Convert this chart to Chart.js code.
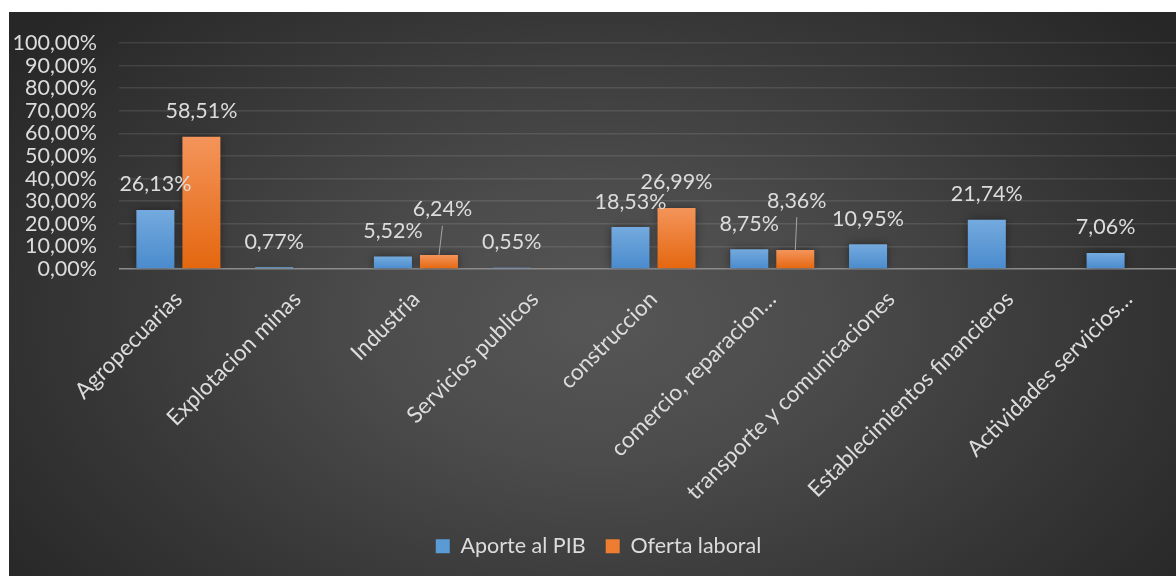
<!DOCTYPE html>
<html>
<head>
<meta charset="utf-8">
<script src="https://cdn.jsdelivr.net/npm/chart.js@4"></script>
<style>
  html, body { margin: 0; padding: 0; background: #ffffff; overflow: hidden; width: 1176px; height: 576px; }
  #wrap {
    position: absolute; left: 9px; top: 12px; width: 1180px; height: 564px;
    background: radial-gradient(ellipse 62% 80% at 50% 55%, #565656 0%, #4c4c4c 30%, #363636 70%, #272727 100%);
  }
</style>
</head>
<body>
<div id="wrap"><canvas id="c"></canvas></div>
<script>
const categories = [
  "Agropecuarias", "Explotacion minas", "Industria", "Servicios publicos",
  "construccion", "comercio, reparacion\u2026", "transporte y comunicaciones",
  "Establecimientos financieros", "Actividades servicios\u2026"
];
const aportePIB = [26.13, 0.77, 5.52, 0.55, 18.53, 8.75, 10.95, 21.74, 7.06];
const ofertaLaboral = [58.51, null, 6.24, null, 26.99, 8.36, null, null, null];
const seriesNames = ["Aporte al PIB", "Oferta laboral"];
const yTickValues = [0, 10, 20, 30, 40, 50, 60, 70, 80, 90, 100];

const FAMILY = "Lato, 'Open Sans', sans-serif";
const FONT = { family: FAMILY, size: 21.5 };
const XFONT = { family: FAMILY, size: 22.5 };
const TEXT = "#dcdcdc";

function fmt(v) { return v.toFixed(2).replace(".", ",") + "%"; }

function barGradient(top, bottom) {
  return function (c) {
    const chart = c.chart;
    const ys = chart.scales && chart.scales.y;
    if (!ys || c.raw == null) return top;
    const y0 = ys.getPixelForValue(c.raw);
    const y1 = ys.getPixelForValue(0);
    const g = chart.ctx.createLinearGradient(0, y0, 0, Math.max(y1, y0 + 1));
    g.addColorStop(0, top);
    g.addColorStop(1, bottom);
    return g;
  };
}

const shadowPlugin = {
  id: "barShadow",
  beforeDatasetsDraw(chart) {
    const ctx = chart.ctx;
    ctx.save();
    ctx.shadowColor = "rgba(0,0,0,0.45)";
    ctx.shadowBlur = 9;
    ctx.shadowOffsetX = 0;
    ctx.shadowOffsetY = 0;
  },
  afterDatasetsDraw(chart) {
    chart.ctx.restore();
  }
};

const valueLabels = {
  id: "valueLabels",
  afterDatasetsDraw(chart, args, opts) {
    const ctx = chart.ctx;
    ctx.save();
    ctx.font = FONT.size + "px " + FONT.family;
    ctx.fillStyle = TEXT;
    ctx.textAlign = "center";
    ctx.textBaseline = "middle";
    chart.data.datasets.forEach((ds, di) => {
      const meta = chart.getDatasetMeta(di);
      meta.data.forEach((bar, i) => {
        const v = ds.data[i];
        if (v == null) return;
        const sh = (opts.shifts || []).find(s => s.dataset === di && s.index === i);
        const x = bar.x + (sh ? sh.dx : 0);
        const y = bar.y - opts.offset + (sh ? sh.dy : 0);
        if (sh && sh.leader) {
          ctx.save();
          ctx.strokeStyle = "#a6a6a6";
          ctx.lineWidth = 1;
          ctx.beginPath();
          ctx.moveTo(x, y + 16.5);
          ctx.lineTo(bar.x, bar.y);
          ctx.stroke();
          ctx.restore();
        }
        ctx.fillText(fmt(v), x, y);
      });
    });
    ctx.restore();
  }
};

new Chart(document.getElementById("c"), {
  type: "bar",
  data: {
    labels: categories,
    datasets: [
      {
        label: seriesNames[0],
        data: aportePIB,
        backgroundColor: barGradient("#74aade", "#4a8bcd"),
        borderWidth: 0,
        categoryPercentage: 0.775,
        barPercentage: 0.826
      },
      {
        label: seriesNames[1],
        data: ofertaLaboral,
        backgroundColor: barGradient("#f4945a", "#e4670f"),
        borderWidth: 0,
        categoryPercentage: 0.775,
        barPercentage: 0.826
      }
    ]
  },
  options: {
    responsive: true,
    maintainAspectRatio: false,
    animation: false,
    layout: { padding: { top: 31, left: 0, right: 1, bottom: 9 } },
    scales: {
      x: {
        grid: { display: false, drawTicks: false },
        border: { display: false },
        ticks: {
          color: TEXT, font: XFONT, autoSkip: false,
          maxRotation: 45, minRotation: 45, padding: 17
        },
        afterFit(s) { s.height = 246.5; s.paddingLeft = 0; s.paddingRight = 0; }
      },
      y: {
        min: 0, max: 100,
        afterBuildTicks(s) { s.ticks = yTickValues.map(v => ({ value: v })); },
        grid: {
          drawTicks: false,
          lineWidth: 1.5,
          color: (c) => (c.tick && c.tick.value === 0) ? "#8c8c8c" : "rgba(255,255,255,0.10)"
        },
        border: { display: false },
        ticks: {
          color: TEXT, font: FONT, padding: 22, autoSkip: false,
          callback: (v) => fmt(v)
        },
        afterFit(s) { s.width = 110; s.paddingTop = 0; s.paddingBottom = 0; }
      }
    },
    plugins: {
      legend: {
        position: "bottom",
        labels: {
          color: TEXT, font: FONT, boxWidth: 14, boxHeight: 14, padding: 20,
          generateLabels(chart) {
            const cols = ["#5b9bd5", "#ed7d31"];
            return chart.data.datasets.map((ds, i) => ({
              text: ds.label, fillStyle: cols[i], strokeStyle: cols[i],
              lineWidth: 0, fontColor: TEXT, datasetIndex: i, hidden: false
            }));
          }
        }
      },
      tooltip: { enabled: false },
      valueLabels: {
        offset: 25.5,
        shifts: [
          { dataset: 1, index: 2, dx: 3.5, dy: -20, leader: true },
          { dataset: 1, index: 5, dx: 1.5, dy: -24, leader: true }
        ]
      }
    }
  },
  plugins: [shadowPlugin, valueLabels]
});
</script>
</body>
</html>
